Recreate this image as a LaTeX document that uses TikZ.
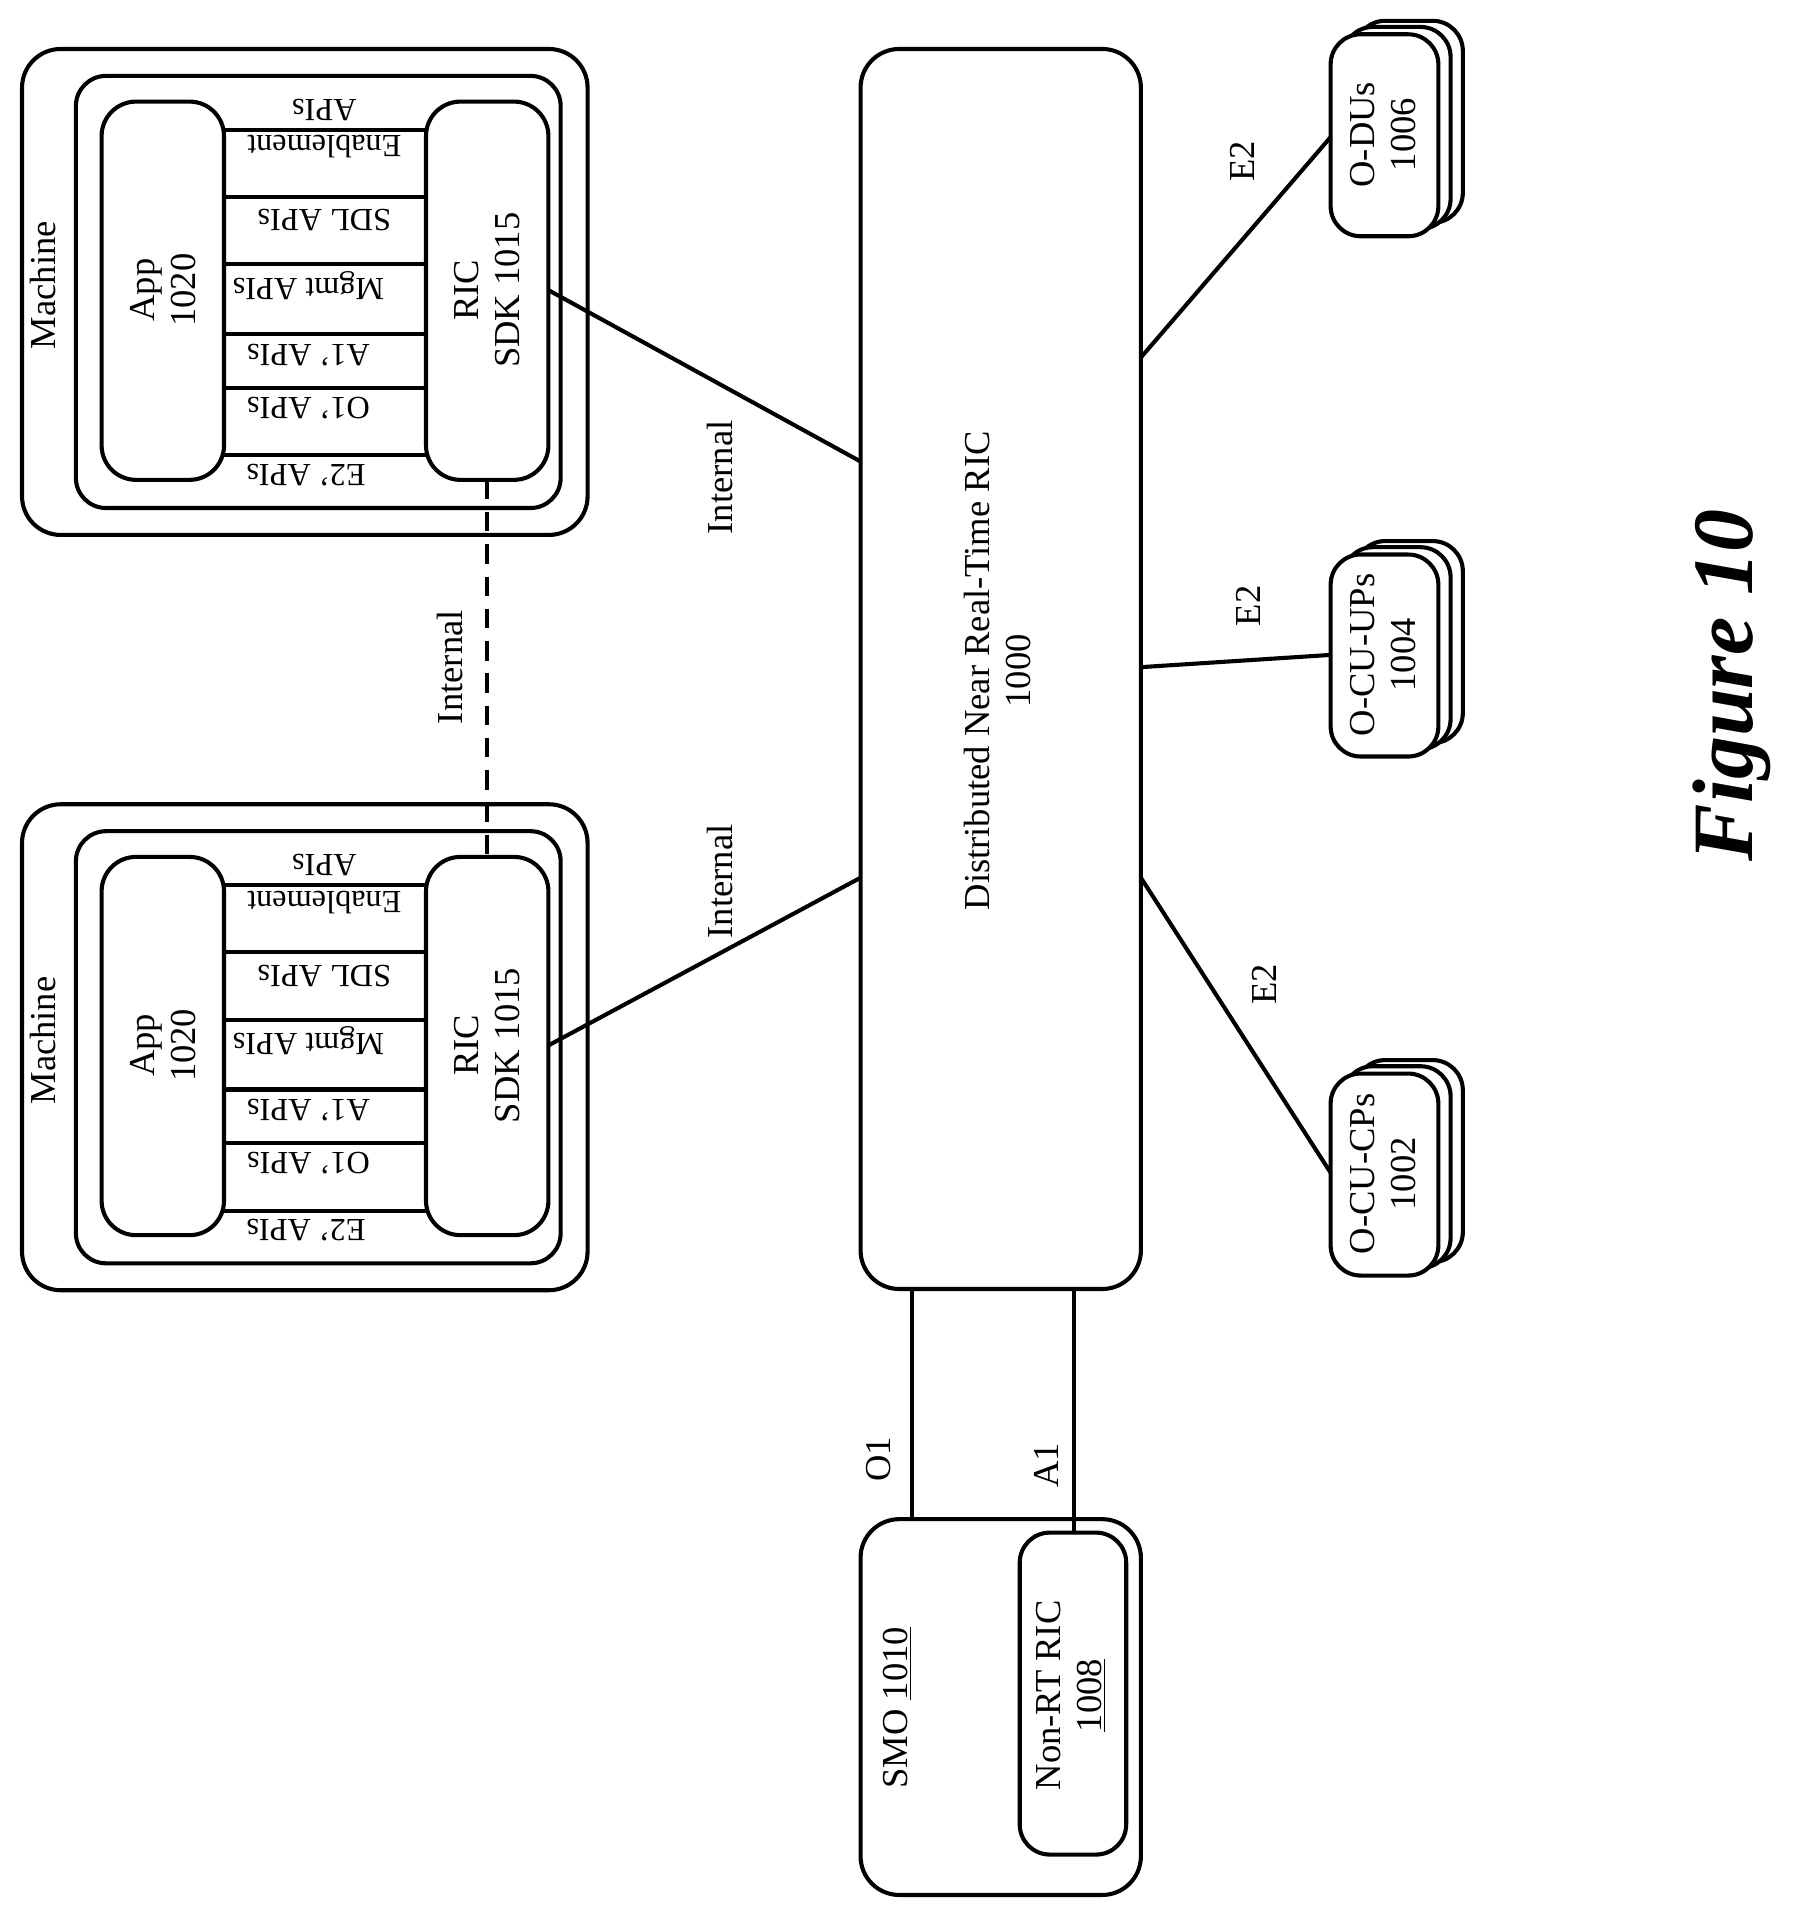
\documentclass[tikz,border=0pt]{standalone}
\usepackage{fontspec}
\setmainfont{Liberation Serif}
\begin{document}
\begin{tikzpicture}[x=0.02cm,y=-0.02cm,line width=1.9pt,
    box/.style={draw,rounded corners=18pt},
    lbl/.style={font=\fontsize{17}{19}\selectfont,align=center},
    api/.style={lbl,rotate=180,font=\fontsize{15}{15}\selectfont}]
  \useasboundingbox (0,0) rectangle (1470,1575);

  % zwei Maschinen
  \foreach \dy/\m in {0/a,617/b} {
    \begin{scope}[yshift=-\dy*0.02cm]
      \draw[box] (18,40) rectangle (480,437);
      \draw[box,rounded corners=14pt] (62,62) rectangle (458,415);
      \draw[box,rounded corners=16pt] (83,83) rectangle (183,392);
      \draw[box,rounded corners=16pt] (348,83) rectangle (448,392);
      \coordinate (sdk\m) at (448,237);
      \coordinate (sdkb\m) at (398,392);
      \coordinate (sdkt\m) at (398,83);
      \foreach \y in {106,161,216,273,317,372} \draw (183,\y) -- (348,\y);
      \node[lbl,rotate=90] at (35,233) {Machine};
      \node[lbl,rotate=90] at (133,237) {App\\1020};
      \node[lbl,rotate=90] at (398,237) {RIC\\SDK 1015};
      \node[api] at (265,90) {APIs};
      \node[api] at (265,120) {Enablement};
      \node[api] at (265,180) {SDL APIs};
      \node[api] at (252,233) {Mgmt APIs};
      \node[api] at (252,290) {A1' APIs};
      \node[api] at (252,333) {O1' APIs};
      \node[api] at (250,388) {E2' APIs};
    \end{scope}
  }
  \draw[dash pattern=on 9pt off 6pt] (sdkba) -- (sdktb);
  \node[lbl,rotate=90] at (368,545) {Internal};

  % RIC
  \draw[box] (703,40) rectangle (932,1053);
  \node[lbl,rotate=90] at (815,548) {Distributed Near Real-Time RIC\\1000};
  \draw (sdka) -- (703,377);
  \draw (sdkb) -- (703,717);
  \node[lbl,rotate=90] at (588,390) {Internal};
  \node[lbl,rotate=90] at (588,720) {Internal};

  % Einheiten
  \foreach \y/\t/\n in {28/O-DUs/1006,453/O-CU-UPs/1004,877/O-CU-CPs/1002} {
    \draw[box,fill=white,rounded corners=14pt] (1107,\y-11) rectangle (1195,\y+154);
    \draw[box,fill=white,rounded corners=14pt] (1097,\y-6) rectangle (1185,\y+159);
    \draw[box,fill=white,rounded corners=14pt] (1087,\y) rectangle (1175,\y+165);
    \node[lbl,rotate=90] at (1130,\y+82) {\t\\\n};
  }
  \draw (932,292) -- (1087,112);
  \draw (932,545) -- (1087,535);
  \draw (932,717) -- (1087,958);
  \node[lbl,rotate=90] at (1015,132) {E2};
  \node[lbl,rotate=90] at (1020,495) {E2};
  \node[lbl,rotate=90] at (1033,804) {E2};

  % SMO
  \draw[box] (703,1241) rectangle (932,1548);
  \draw[box,rounded corners=14pt] (833,1252) rectangle (920,1515);
  \node[lbl,rotate=90] at (733,1395) {SMO \underline{1010}};
  \node[lbl,rotate=90] at (875,1385) {Non-RT RIC\\\underline{1008}};
  \draw (745,1053) -- (745,1241);
  \draw (877,1053) -- (877,1252);
  \node[lbl,rotate=90] at (718,1192) {O1};
  \node[lbl,rotate=90] at (855,1197) {A1};

  \node[rotate=90,font=\fontsize{40}{40}\selectfont\bfseries\itshape] at (1415,560) {Figure 10};
\end{tikzpicture}
\end{document}
